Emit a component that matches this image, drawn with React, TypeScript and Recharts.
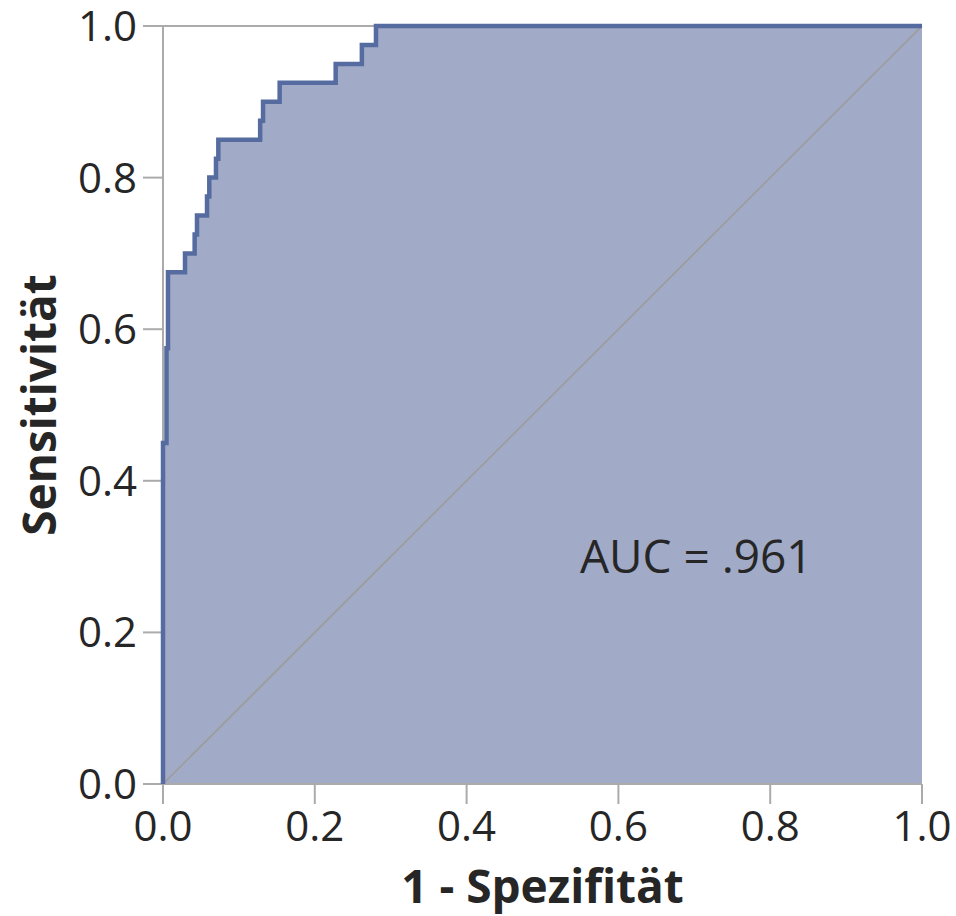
import React from 'react';
import { ComposedChart, Area, Line, XAxis, YAxis, ReferenceLine, ReferenceDot, Label } from 'recharts';

// ROC-Kurve: Eckpunkte der Treppe (1 - Spezifität / Sensitivität)
const fpr = [
  0, 0, 0.0046, 0.0046, 0.0066, 0.0066, 0.029, 0.029, 0.0417, 0.0417, 0.0448, 0.0448,
  0.058, 0.058, 0.061, 0.061, 0.0698, 0.0698, 0.0729, 0.0729, 0.128, 0.128, 0.1318, 0.1318,
  0.1537, 0.1537, 0.2275, 0.2275, 0.262, 0.262, 0.2806, 0.2806, 1.0,
];
const tpr = [
  0, 0.45, 0.45, 0.575, 0.575, 0.675, 0.675, 0.7, 0.7, 0.725, 0.725, 0.75,
  0.75, 0.775, 0.775, 0.8, 0.8, 0.825, 0.825, 0.85, 0.85, 0.875, 0.875, 0.9,
  0.9, 0.925, 0.925, 0.95, 0.95, 0.975, 0.975, 1.0, 1.0,
];
const axisTicks = [0, 0.2, 0.4, 0.6, 0.8, 1.0];
const aucText = 'AUC = .961';
const xTitle = '1 - Spezifität';
const yTitle = 'Sensitivität';

const data = fpr.map((x, i) => ({ fpr: x, tpr: tpr[i] }));

const FONT = '"Open Sans", "Noto Sans", sans-serif';
const TEXT = '#262626';
const AXIS = '#ababab';
const CURVE = '#566ca0';

const tickStyle = { fill: TEXT, fontSize: 42, fontFamily: FONT };

const XTitle = (props: any) => {
  const vb = props.viewBox;
  return (
    <text x={vb.x + vb.width / 2} y={vb.y + 119} textAnchor="middle" fontSize={46} fontWeight="bold" fontFamily={FONT} fill={TEXT}>
      {xTitle}
    </text>
  );
};

const YTitle = (props: any) => {
  const vb = props.viewBox;
  const cx = vb.x - 7;
  const cy = vb.y + vb.height / 2;
  return (
    <text x={cx} y={cy} transform={`rotate(-90 ${cx} ${cy})`} textAnchor="middle" fontSize={46} fontWeight="bold" fontFamily={FONT} fill={TEXT}>
      {yTitle}
    </text>
  );
};

const AucLabel = (props: any) => {
  const vb = props.viewBox;
  const cx = vb.x + (vb.width || 0) / 2;
  const cy = vb.y + (vb.height || 0) / 2;
  return (
    <text x={cx + 2} y={cy + 16} textAnchor="middle" fontSize={46} fontFamily={FONT} fill={TEXT}>
      {aucText}
    </text>
  );
};

export default function App() {
  return (
    <div style={{ position: 'absolute', left: 0, top: 0, width: 956, height: 916, background: '#fff' }}>
      <ComposedChart width={956} height={916} data={data} margin={{ top: 26, right: 34, bottom: 32, left: 63 }}>
        <XAxis
          dataKey="fpr"
          type="number"
          domain={[0, 1]}
          ticks={axisTicks}
          tickFormatter={(v: number) => v.toFixed(1)}
          height={100}
          tickSize={20}
          tickMargin={7}
          tick={tickStyle}
          axisLine={{ stroke: AXIS, strokeWidth: 2 }}
          tickLine={{ stroke: AXIS, strokeWidth: 2 }}
        >
          <Label content={XTitle} />
        </XAxis>
        <YAxis
          dataKey="tpr"
          type="number"
          domain={[0, 1]}
          ticks={axisTicks}
          tickFormatter={(v: number) => v.toFixed(1)}
          width={100}
          tickSize={20}
          tickMargin={6}
          tick={tickStyle}
          axisLine={{ stroke: AXIS, strokeWidth: 2 }}
          tickLine={{ stroke: AXIS, strokeWidth: 2 }}
        >
          <Label content={YTitle} />
        </YAxis>
        <ReferenceLine y={1} stroke={AXIS} strokeWidth={2} />
        <Area
          type="linear"
          dataKey="tpr"
          stroke="none"
          fill="#a1aac6"
          fillOpacity={1}
          dot={false}
          activeDot={false}
          isAnimationActive={false}
        />
        <ReferenceLine
          segment={[{ x: 0, y: 0 }, { x: 1, y: 1 }]}
          stroke="#9c9c96"
          strokeWidth={1.5}
        />
        <Line
          type="linear"
          dataKey="tpr"
          stroke={CURVE}
          strokeWidth={4.5}
          dot={false}
          activeDot={false}
          isAnimationActive={false}
          zIndex={600}
        />
        <ReferenceDot x={0.7} y={0.3} r={0} fill="none" stroke="none" label={<AucLabel />} />
      </ComposedChart>
    </div>
  );
}
